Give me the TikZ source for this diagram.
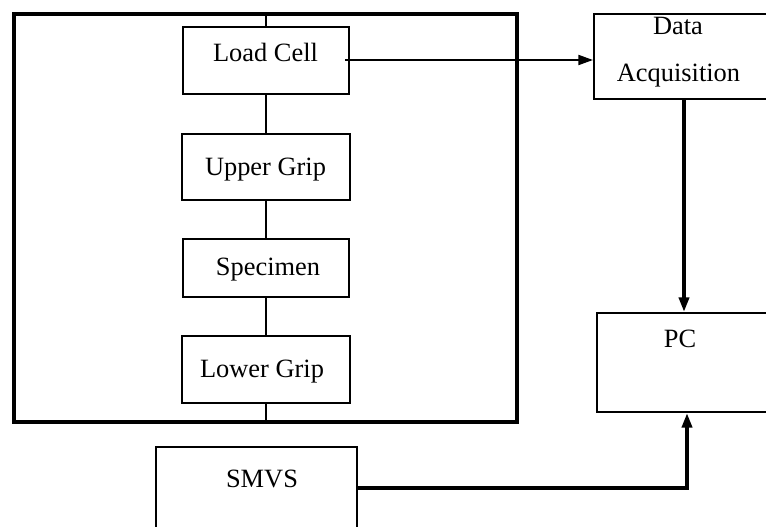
\documentclass[tikz,border=0pt]{standalone}
\usepackage{fontspec}
\setmainfont{Liberation Serif}
\usetikzlibrary{arrows.meta}
\begin{document}
\begin{tikzpicture}[x=0.75pt, y=-0.75pt,
  thin line/.style={line width=1.5pt},
  thick line/.style={line width=3.4pt},
  box/.style={draw, thin line, inner sep=0pt},
  label text/.style={font=\fontsize{19.8}{23}\selectfont, inner sep=0pt, anchor=base},
  tip/.style={-{Triangle[length=11pt, width=7.5pt]}}
]
\useasboundingbox (0,0) rectangle (766,527);

% test frame
\draw[thick line] (14,14) rectangle (517,422);

% column of the test frame
\node[box, minimum width=166*0.75pt, minimum height=67*0.75pt] (lc) at (266,60.5) {};
\node[box, minimum width=168*0.75pt, minimum height=66*0.75pt] (ug) at (266,167) {};
\node[box, minimum width=166*0.75pt, minimum height=58*0.75pt] (sp) at (266,268) {};
\node[box, minimum width=168*0.75pt, minimum height=67*0.75pt] (lg) at (266,369.5) {};
\coordinate (ftop) at (266,14);
\coordinate (fbot) at (266,422);

\node[label text] (lct) at (265.5,62) {Load Cell};
\node[label text] (ugt) at (265.5,176) {Upper Grip};
\node[label text] (spt) at (268,275) {Specimen};
\node[label text] (lgt) at (262,377) {Lower Grip};

\draw[thin line] (ftop) -- (lc.north);
\draw[thin line] (lc.south) -- (ug.north);
\draw[thin line] (ug.south) -- (sp.north);
\draw[thin line] (sp.south) -- (lg.north);
\draw[thin line] (lg.south) -- (fbot);

% data acquisition and PC (right edges run past the page)
\node[box, minimum width=176*0.75pt, minimum height=85*0.75pt] (da) at (682,56.5) {};
\node[label text] (dat1) at (678,35) {Data};
\node[label text] (dat2) at (678.5,82) {Acquisition};

\node[box, minimum width=174*0.75pt, minimum height=99*0.75pt] (pc) at (684,362.5) {};
\node[label text] (pct) at (680,347) {PC};

% SMVS (bottom edge runs past the page)
\node[box, minimum width=201*0.75pt, minimum height=100*0.75pt] (sm) at (256.5,497) {};
\node[label text] (smt) at (262,487) {SMVS};

% connectors
\coordinate (lcout) at (345,60);
\draw[thin line, tip] (lcout) -- (da.west |- lcout);
\draw[thick line, tip] (684,99) -- (684,312);
\coordinate (smout) at (sm.east |- 0,488);
\coordinate (bend) at (687,488);
\draw[thick line, tip] (smout) -- (bend) -- (687,413);
\end{tikzpicture}
\end{document}
